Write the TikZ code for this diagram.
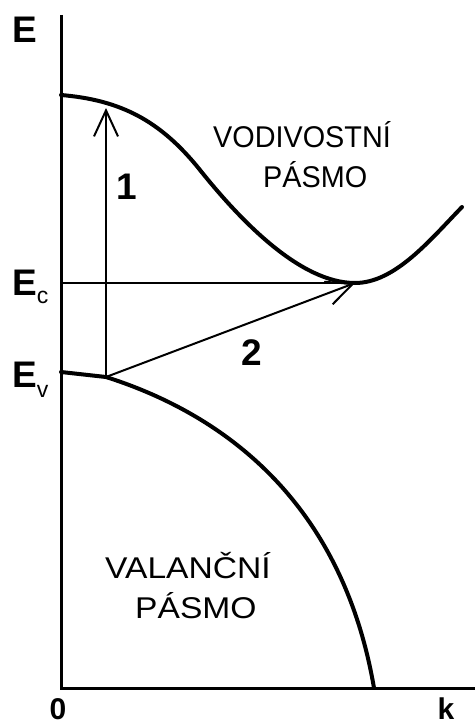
\documentclass[tikz,border=0pt]{standalone}
\usepackage{fontspec}
\setmainfont{Liberation Sans}
\usetikzlibrary{arrows.meta}

\tikzset{
  axisline/.style={line width=3pt},
  bandline/.style={line width=4pt, line cap=round},
  transition/.style={line width=2pt, -{Straight Barb[length=26pt,width=24pt,line width=2pt]}},
  bandtext/.style={font=\fontsize{30}{34}\selectfont, inner sep=0pt, anchor=base west},
  axtext/.style={font=\fontsize{37}{40}\selectfont\bfseries, inner sep=0pt, anchor=base},
  endtext/.style={axtext, font=\fontsize{30}{34}\selectfont\bfseries},
}

\begin{document}
\begin{tikzpicture}[x=1pt, y=-1pt]
  \useasboundingbox (0,0) rectangle (475,727);

  % axes
  \coordinate (top) at (61,15);
  \coordinate (origin) at (61,688);
  \coordinate (right) at (475,688);
  \draw[axisline] (top) -- (origin) -- (right);

  % axis labels
  \node[axtext] (E) at (25,43) {E};
  \node[axtext, anchor=base west] (Ec) at (12,295) {E\raisebox{-8pt}{\mdseries\fontsize{23}{26}\selectfont c}};
  \node[axtext, anchor=base west] (Ev) at (12,387) {E\raisebox{-10pt}{\mdseries\fontsize{23}{26}\selectfont v}};
  \node[endtext] (zero) at (58,719) {0};
  \node[endtext] (k) at (446,719) {k};

  % transitions
  \coordinate (cbleft) at (61,95);
  \coordinate (cbbend) at (200,170);
  \coordinate (cbmin) at (355,283);
  \coordinate (cbright) at (462,207);
  \coordinate (vbleft) at (61,372);
  \coordinate (vbmax) at (106,377);
  \coordinate (vbend) at (374,688);
  \coordinate (cbtop) at (106,108);
  \coordinate (ecaxis) at (61,283);

  % bands
  \draw[bandline] (cbleft) .. controls (120,100) and (160,120) .. (cbbend)
    .. controls (240,220) and (300,283) .. (cbmin)
    .. controls (395,283) and (430,240) .. (cbright);
  \draw[bandline] (vbleft) -- (vbmax) .. controls (210,410) and (340,490) .. (vbend);

  \draw[line width=2pt] (ecaxis) -- (cbmin);
  \draw[transition] (vbmax) -- (cbtop);
  \draw[transition] (vbmax) -- (cbmin);
  \node[axtext] (one) at (127,200) {1};
  \node[axtext] (two) at (252,365) {2};

  % band names
  \node[bandtext] (cb1) at (213,148) {\scalebox{0.96}[1]{VODIVOSTNÍ}};
  \node[bandtext] (cb2) at (263,188) {\scalebox{0.96}[1]{PÁSMO}};
  \node[bandtext] (vb1) at (105,578) {\scalebox{1.12}[1]{VALANČNÍ}};
  \node[bandtext] (vb2) at (135,618) {\scalebox{1.12}[1]{PÁSMO}};
\end{tikzpicture}
\end{document}
